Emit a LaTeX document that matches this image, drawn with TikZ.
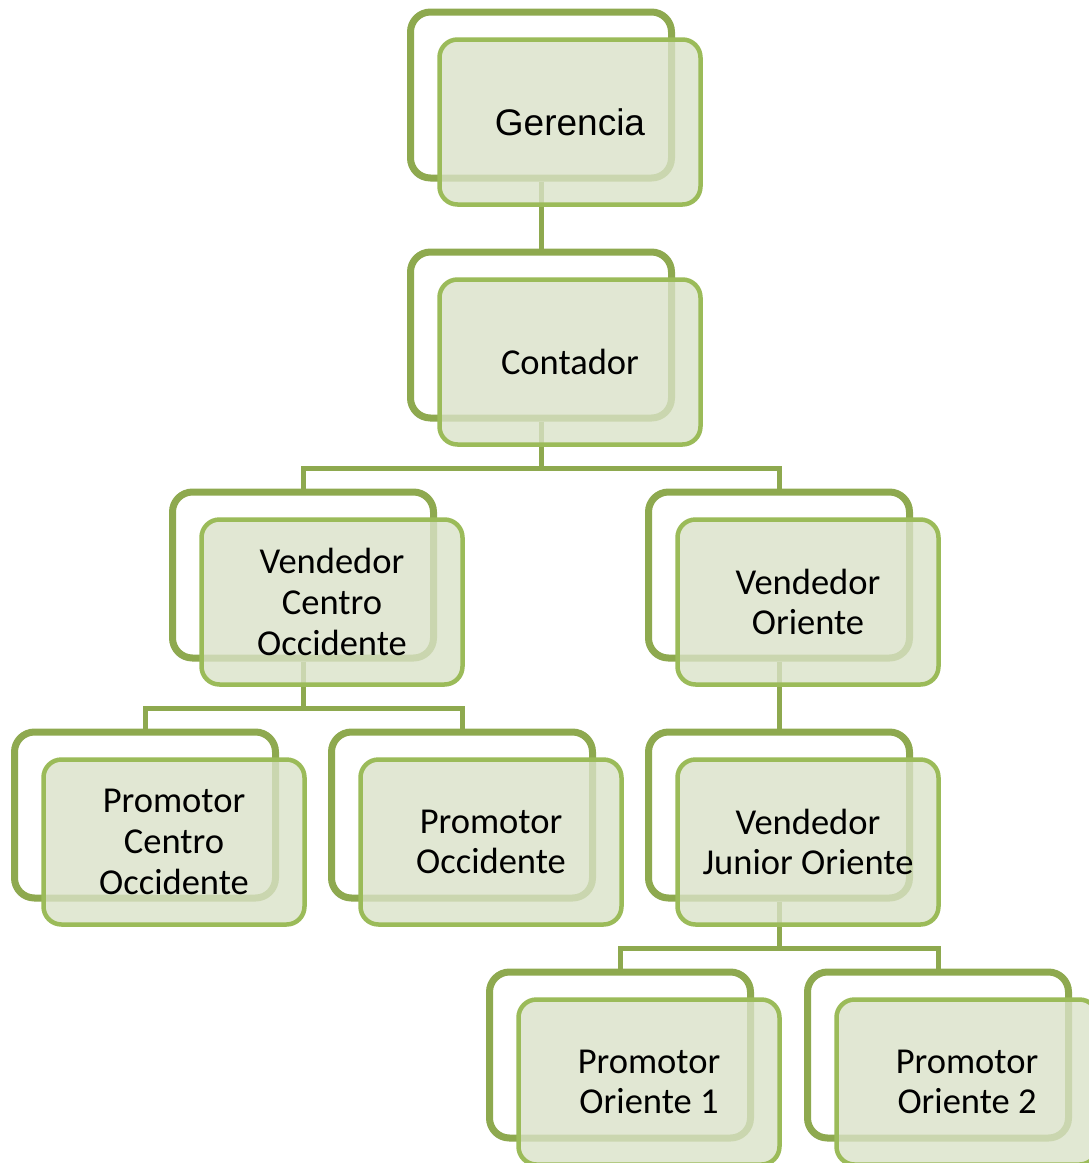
\documentclass[tikz,border=0pt]{standalone}
\usepackage{fontspec}
\setmainfont{Carlito}
\newfontfamily\arialfont{Liberation Sans}
\usetikzlibrary{shadows}

\definecolor{backline}{HTML}{8EA94F}
\definecolor{frontline}{HTML}{9BBB59}
\definecolor{frontfill}{HTML}{DAE2C8}

\tikzset{
  backbox/.style={draw=backline, line width=7pt, fill=white, rounded corners=20pt,
    minimum width=261pt, minimum height=166pt,
    drop shadow={shadow xshift=-2pt, shadow yshift=-3pt, opacity=.3}},
  frontbox/.style={draw=frontline, line width=4.5pt, fill=frontfill, fill opacity=.8,
    text opacity=1, rounded corners=18pt, minimum width=261pt, minimum height=165pt,
    align=center, font=\fontsize{36.5}{40.7}\selectfont},
  link/.style={draw=backline, line width=5pt}
}

\begin{document}
\begin{tikzpicture}[x=1pt, y=-1pt]
    \def\dx{29}
    \def\dy{27}
    \def\bus{47}
    \useasboundingbox (0,0) rectangle (1089,1163);

    % back frames
    \foreach \name/\x/\y in {ger/541/95, cont/541/335, vco/303/575, vor/779/575,
        pco/145/815, pocc/462/815, vjo/779/815, po1/620/1055, po2/938/1055}
        \node[backbox] (\name) at (\x,\y) {};

    % connectors
    \draw[link] (ger.south) -- (cont.north);
    \draw[link] (cont.south) -- ++(0,\bus) coordinate (contbus) -| (vco.north) (contbus) -| (vor.north);
    \draw[link] (vco.south) -- ++(0,\bus) coordinate (vcobus) -| (pco.north) (vcobus) -| (pocc.north);
    \draw[link] (vor.south) -- (vjo.north);
    \draw[link] (vjo.south) -- ++(0,\bus) coordinate (vjobus) -| (po1.north) (vjobus) -| (po2.north);

    % front boxes
    \node[frontbox, font=\fontsize{37}{41}\selectfont\arialfont] (gerF) at ([shift={(\dx,\dy)}]ger.center) {Gerencia};
    \node[frontbox] (contF) at ([shift={(\dx,\dy)}]cont.center) {Contador};
    \node[frontbox] (vcoF) at ([shift={(\dx,\dy)}]vco.center) {Vendedor\\Centro\\Occidente};
    \node[frontbox] (vorF) at ([shift={(\dx,\dy)}]vor.center) {Vendedor\\Oriente};
    \node[frontbox] (pcoF) at ([shift={(\dx,\dy)}]pco.center) {Promotor\\Centro\\Occidente};
    \node[frontbox] (poccF) at ([shift={(\dx,\dy)}]pocc.center) {Promotor\\Occidente};
    \node[frontbox] (vjoF) at ([shift={(\dx,\dy)}]vjo.center) {Vendedor\\Junior Oriente};
    \node[frontbox] (po1F) at ([shift={(\dx,\dy)}]po1.center) {Promotor\\Oriente 1};
    \node[frontbox] (po2F) at ([shift={(\dx,\dy)}]po2.center) {Promotor\\Oriente 2};
\end{tikzpicture}
\end{document}
